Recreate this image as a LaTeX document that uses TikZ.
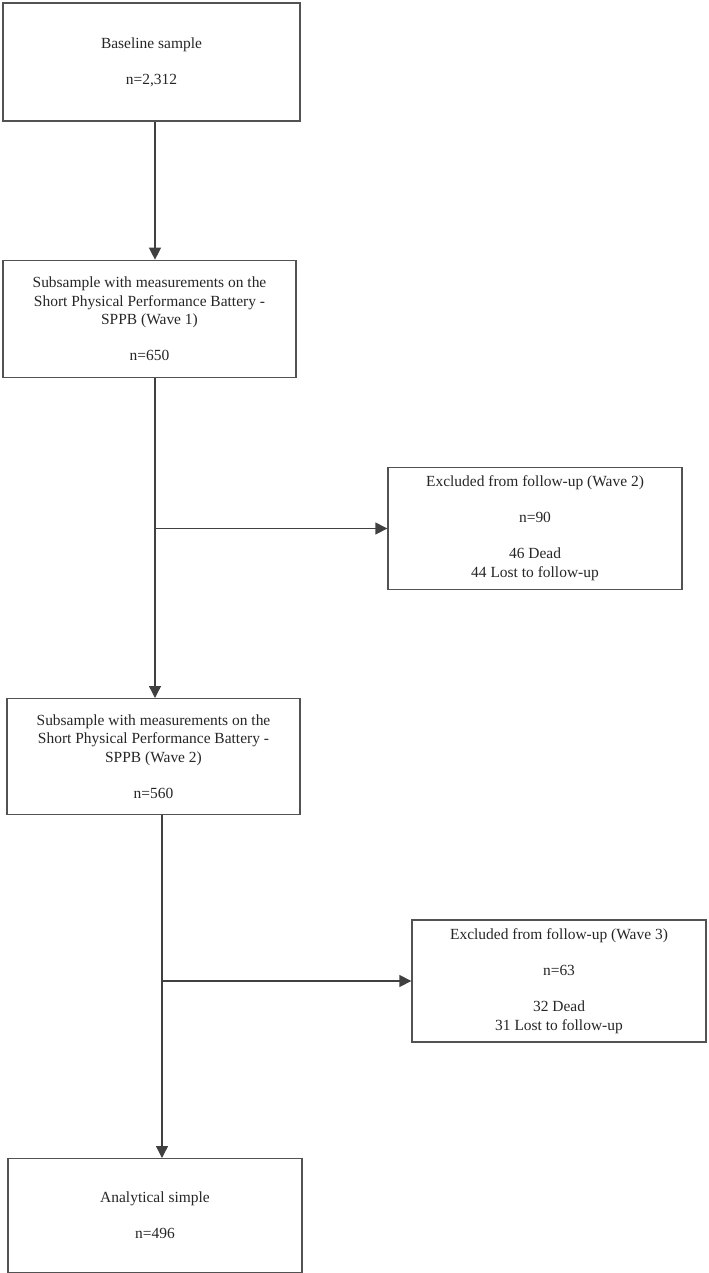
\documentclass[tikz,border=0pt]{standalone}
\usepackage{fontspec}
\setmainfont{Liberation Serif}
\usetikzlibrary{positioning,arrows.meta}

\begin{document}
\begin{tikzpicture}[x=0.75pt, y=-0.75pt, node distance=30pt,
  box/.style = {draw=black!68, line width=1pt, align=center, inner sep=2pt,
                font=\fontsize{11.6}{14}\selectfont, text=black!85},
  arr/.style = {draw=black!75, line width=1pt, -{Triangle[length=9pt,width=9pt]}}]
  \useasboundingbox (0,0) rectangle (709,1273);

  \node[box, minimum width=222.75pt, minimum height=88.5pt] (base) at (151.5,62) {Baseline sample\\[13pt]n=2,312};
  \node[box, minimum width=219.75pt, minimum height=87.75pt] (wave1) [below=103.5pt of base, xshift=-1.5pt] {Subsample with measurements on the\\Short Physical Performance Battery -\\SPPB (Wave 1)\\[13pt]n=650};
  \node[box, minimum width=219.75pt, minimum height=87pt] (wave2) [below=240pt of wave1, xshift=3pt] {Subsample with measurements on the\\Short Physical Performance Battery -\\SPPB (Wave 2)\\[13pt]n=560};
  \node[box, minimum width=220.5pt, minimum height=85.5pt] (final) [below=257pt of wave2, xshift=1.1pt] {Analytical simple\\[13pt]n=496};

  \node[box, minimum width=220.5pt, minimum height=91.5pt] (excl2) at (535,528.5) {Excluded from follow-up (Wave 2)\\[13pt]n=90\\[13pt]46 Dead\\44 Lost to follow-up};
  \node[box, minimum width=220.5pt, minimum height=91.5pt] (excl3) at (559,981) {Excluded from follow-up (Wave 3)\\[13pt]n=63\\[13pt]32 Dead\\31 Lost to follow-up};

  % branch points
  \coordinate (j1) at (155,528.5);
  \coordinate (j2) at (162,981);

  \draw[arr] (base.south -| j1) -- (wave1.north -| j1);
  \draw[arr] (wave1.south -| j1) -- (wave2.north -| j1);
  \draw[arr] (j1) -- (excl2);
  \draw[arr] (wave2.south -| j2) -- (final.north -| j2);
  \draw[arr] (j2) -- (excl3);
\end{tikzpicture}
\end{document}
